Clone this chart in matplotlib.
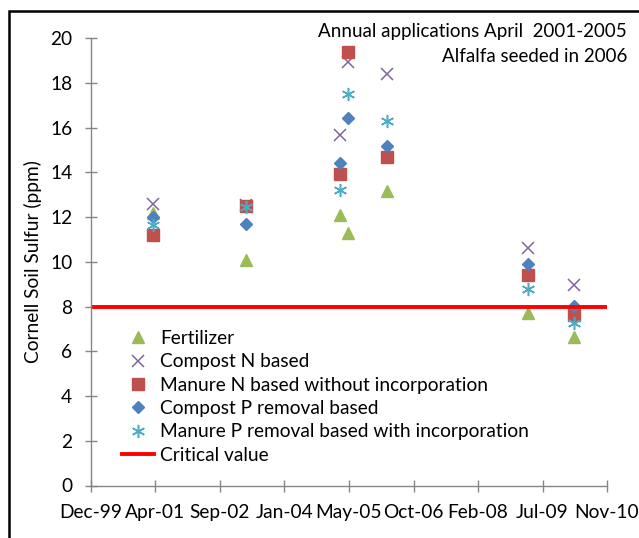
import matplotlib
matplotlib.use("Agg")
import matplotlib.pyplot as plt
import matplotlib.dates as mdates
from matplotlib.patches import Rectangle
from datetime import datetime, timedelta

# ---- data ----
sample_dates = ['2001-03-28', '2003-03-25', '2005-03-19', '2005-05-23',
                '2006-03-21', '2009-03-13', '2010-03-11']
fertilizer = [12.2, 10.1, 12.1, 11.3, 13.17, 7.7, 6.64]
compost_n = [12.6, 12.55, 15.68, 18.95, 18.4, 10.62, 8.97]
manure_n = [11.2, 12.5, 13.92, 19.4, 14.7, 9.41, 7.63]
compost_p = [12.0, 11.7, 14.41, 16.42, 15.2, 9.89, 8.05]
manure_p = [11.65, 12.45, 13.22, 17.5, 16.3, 8.79, 7.28]
critical_value = 8

series_names = ['Fertilizer', 'Compost N based', 'Manure N based without incorporation',
                'Compost P removal based', 'Manure P removal based with incorporation']
critical_name = 'Critical value'

# Excel-style date axis: serial 36500 .. 40500, step 500 days
x_tick_serials = [36500, 37000, 37500, 38000, 38500, 39000, 39500, 40000, 40500]
x_tick_labels = ['Dec-99', 'Apr-01', 'Sep-02', 'Jan-04', 'May-05', 'Oct-06',
                 'Feb-08', 'Jul-09', 'Nov-10']
y_ticks = [0, 2, 4, 6, 8, 10, 12, 14, 16, 18, 20]

annotation_lines = ['Annual applications April  2001-2005', 'Alfalfa seeded in 2006']

# ---- helpers ----
excel_epoch = datetime(1899, 12, 30)
def serial_to_num(s):
    return mdates.date2num(excel_epoch + timedelta(days=s))

x = [mdates.date2num(datetime.strptime(d, '%Y-%m-%d')) for d in sample_dates]
x_ticks = [serial_to_num(s) for s in x_tick_serials]

FONT = 'Lato'
FS = 13.8
plt.rcParams['font.family'] = [FONT, 'DejaVu Sans']

fig = plt.figure(figsize=(6.39, 5.38), dpi=100)
ax = fig.add_axes([91/639, 1 - 485.5/538, (607-91)/639, (485.5-38.3)/538])

colors = ['#9BBB59', '#8064A2', '#C0504D', '#4F81BD', '#4BACC6']
styles = [
    dict(marker='^', markersize=9, color=colors[0], linestyle='none'),
    dict(marker='x', markersize=8.5, color=colors[1], linestyle='none', markeredgewidth=1.1),
    dict(marker='s', markersize=8.5, color=colors[2], linestyle='none'),
    dict(marker='D', markersize=6.5, color=colors[3], linestyle='none'),
    dict(marker=(6, 2, 0), markersize=9.5, color=colors[4], linestyle='none', markeredgewidth=1.1),
]
data = [fertilizer, compost_n, manure_n, compost_p, manure_p]
handles = []
for name, vals, st in zip(series_names, data, styles):
    h, = ax.plot(x, vals, label=name, **st)
    handles.append(h)

crit = ax.axhline(critical_value, color='#FF0000', linewidth=2.8, label=critical_name)
handles.append(crit)

ax.set_xlim(x_ticks[0], x_ticks[-1])
ax.set_ylim(0, 20)
ax.set_xticks(x_ticks)
ax.set_xticklabels(x_tick_labels)
ax.set_yticks(y_ticks)
ax.set_yticklabels([str(v) for v in y_ticks])

for s in ['top', 'right']:
    ax.spines[s].set_visible(False)
for s in ['left', 'bottom']:
    ax.spines[s].set_color('#868686')
    ax.spines[s].set_linewidth(1.0)
ax.tick_params(axis='both', direction='inout', length=9, width=1.0, color='#868686',
               labelsize=FS, labelcolor='black')
ax.tick_params(axis='x', pad=9)
ax.tick_params(axis='y', pad=9)

ax.set_ylabel('Cornell Soil Sulfur (ppm)', fontsize=FS, labelpad=6)

leg = ax.legend(handles=handles, loc='upper left', bbox_to_anchor=(0.045, 0.365),
                frameon=False, fontsize=FS, handlelength=1.7, handletextpad=0.3,
                labelspacing=0.33, borderaxespad=0)

for i, t in enumerate(annotation_lines):
    fig.text(627/639, 1 - (31 + 26*i)/538, t, ha='right', va='center', fontsize=13.5)

# outer frame (partly cut by image edges)
fig.patches.append(Rectangle((9/639, -0.1), 1.2, 1 - 11/538 + 0.1,
                             transform=fig.transFigure, fill=False,
                             edgecolor='black', linewidth=1.8))

fig.savefig('out.png', dpi=100)
